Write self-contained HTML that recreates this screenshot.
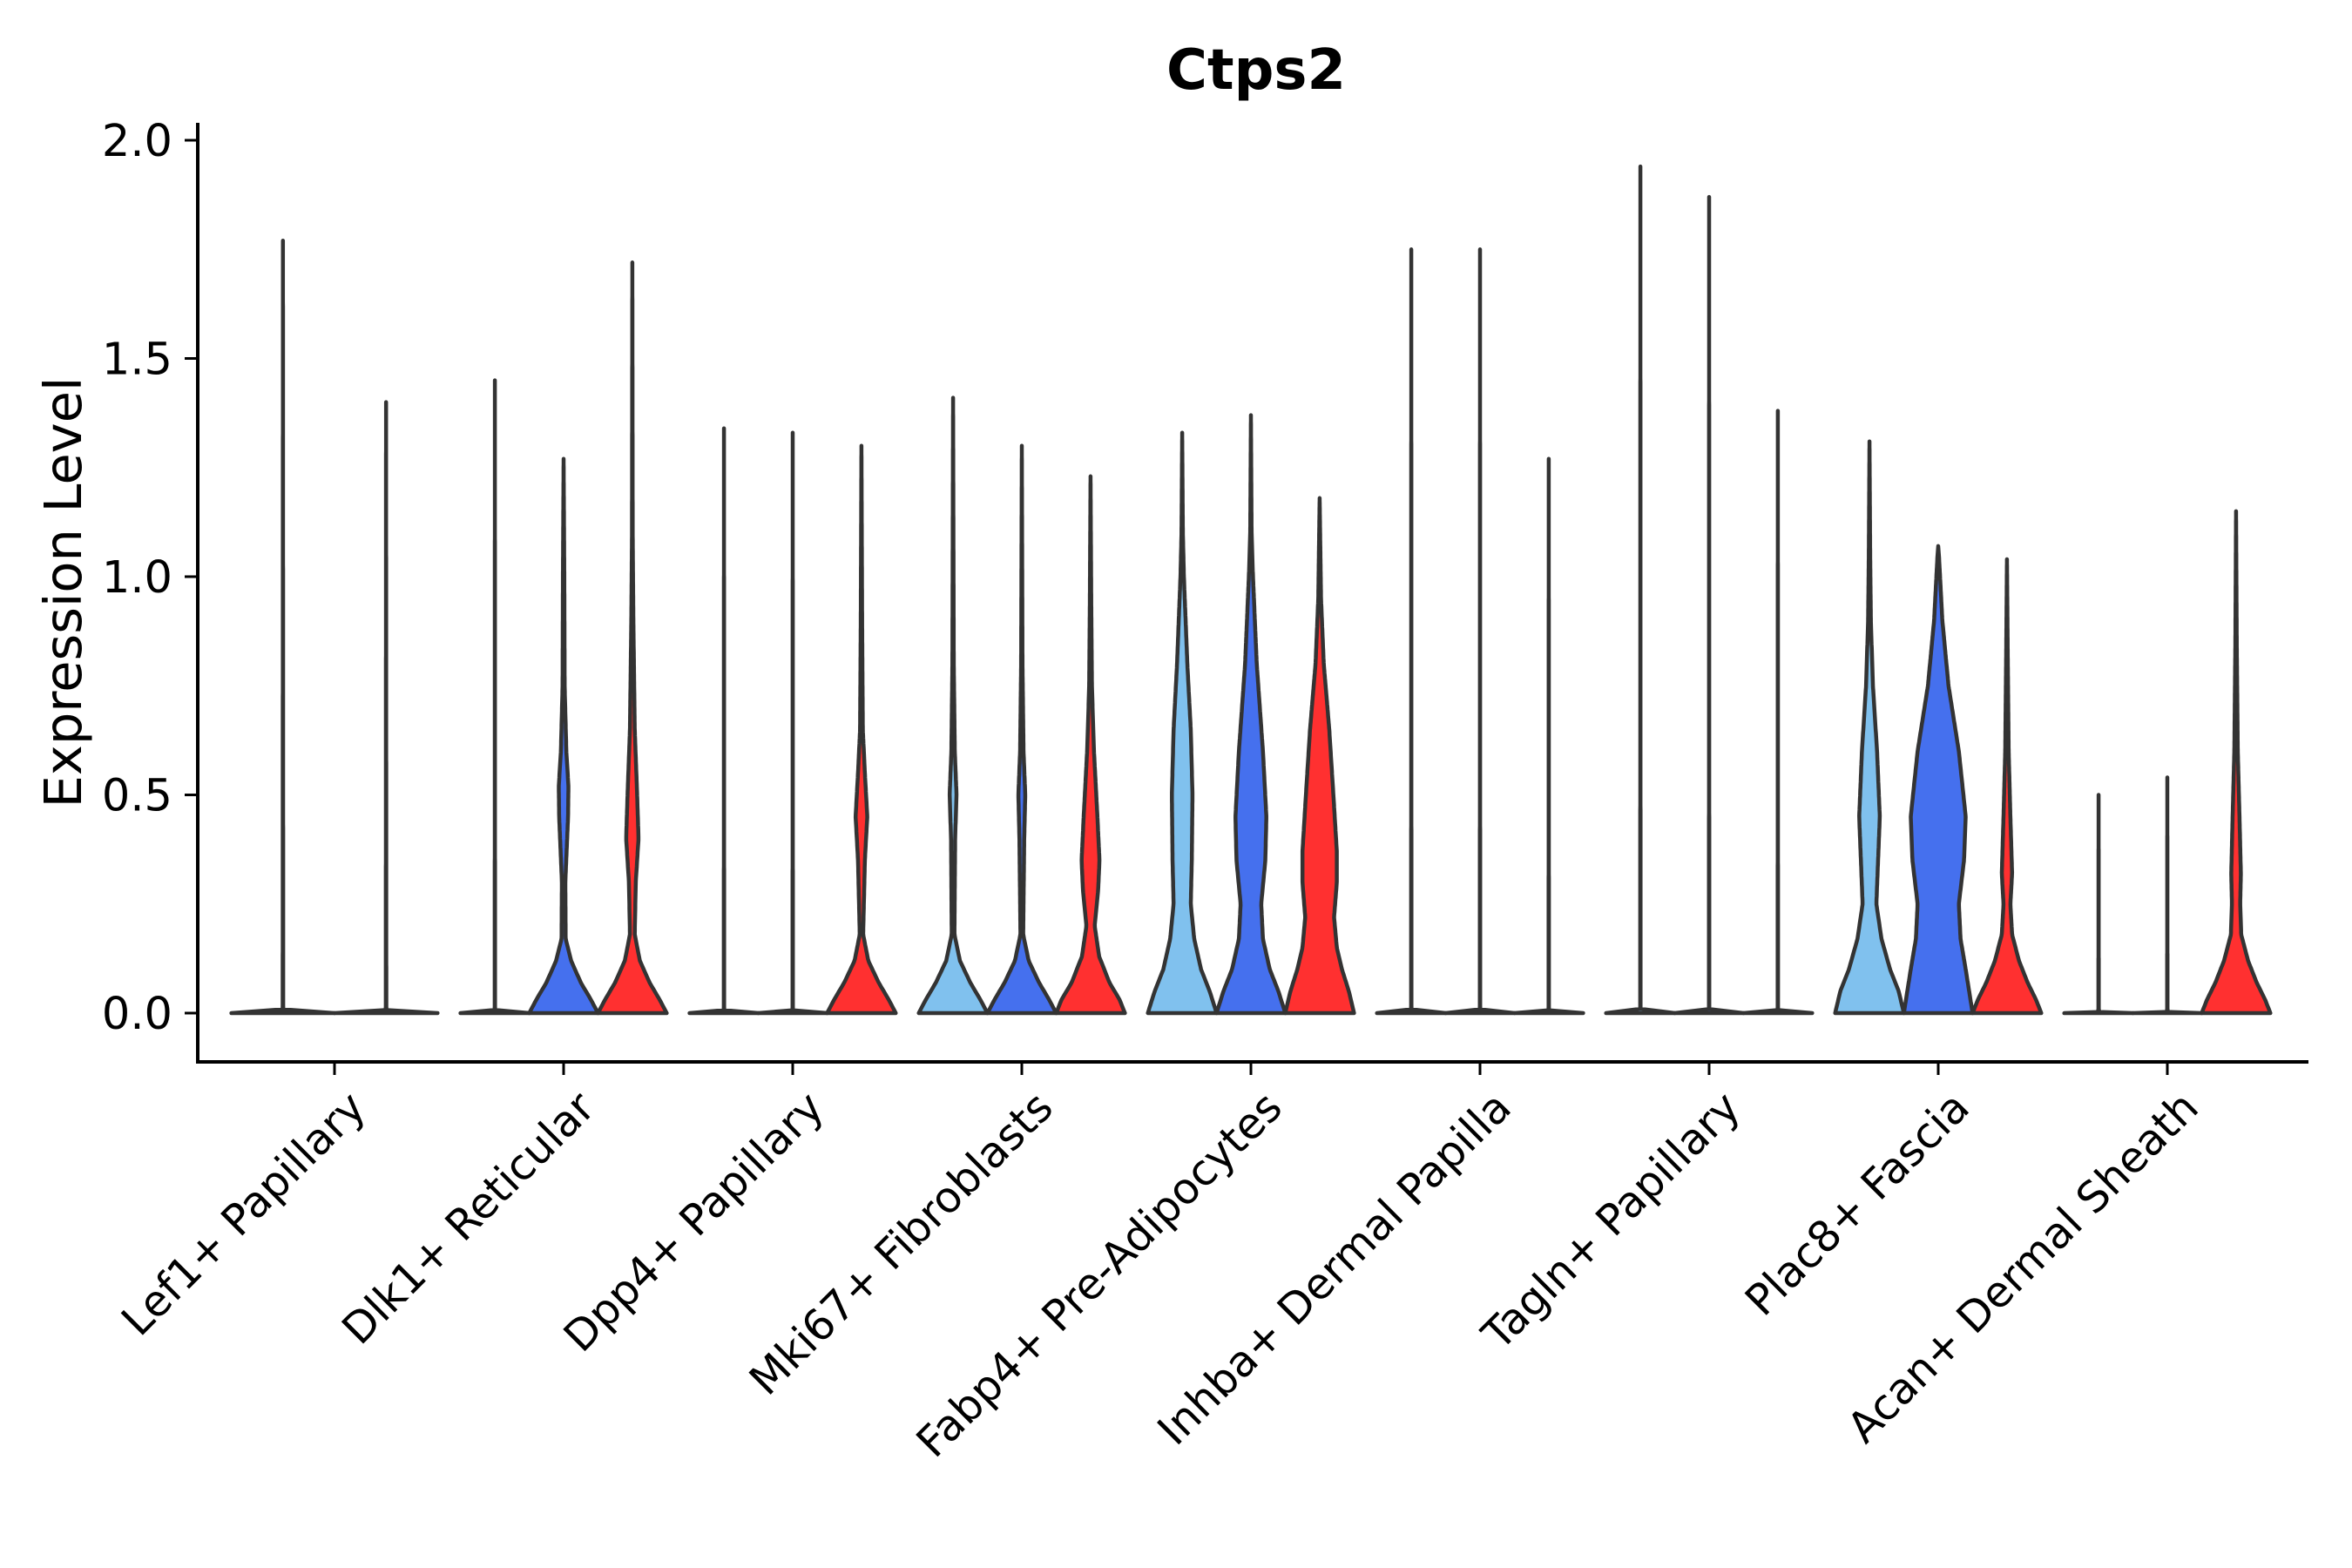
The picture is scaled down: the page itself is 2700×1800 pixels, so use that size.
<!DOCTYPE html>
<html><head><meta charset="utf-8"><style>
html,body{margin:0;padding:0;background:#fff}
svg{display:block}
text{font-family:"DejaVu Sans","Liberation Sans",sans-serif;fill:#000}
</style></head><body>
<svg id="chart" width="2700" height="1800" viewBox="0 0 2700 1800" xmlns="http://www.w3.org/2000/svg">
<text x="1442" y="102" font-size="64" font-weight="bold" text-anchor="middle">Ctps2</text>
<text transform="translate(93,680) rotate(-90)" font-size="59" text-anchor="middle">Expression Level</text>
<line x1="227" y1="141" x2="227" y2="1221" stroke="#000" stroke-width="4"/>
<line x1="225" y1="1219" x2="2650" y2="1219" stroke="#000" stroke-width="4"/>
<g id="yticks"></g>
<g id="xticks"></g>
<g id="violins"></g>
</svg>
<script>
const categories = ["Lef1+ Papillary","Dlk1+ Reticular","Dpp4+ Papillary","Mki67+ Fibroblasts","Fabp4+ Pre-Adipocytes","Inhba+ Dermal Papilla","Tagln+ Papillary","Plac8+ Fascia","Acan+ Dermal Sheath"];
const yTicks = [0, 0.5, 1.0, 1.5, 2.0];
const yTickLabels = ["0.0","0.5","1.0","1.5","2.0"];
const seriesColors = ["#80C1EE","#4570EE","#FF3030"];
const groupSeries = [[0,1],[0,1,2],[0,1,2],[0,1,2],[0,1,2],[0,1,2],[0,1,2],[0,1,2],[0,1,2]];
const maxVals = [[1.77,1.40],[1.45,1.27,1.72],[1.34,1.33,1.30],[1.41,1.30,1.23],[1.33,1.37,1.18],[1.75,1.75,1.27],[1.94,1.87,1.38],[1.31,1.07,1.04],[0.50,0.54,1.15]];
const zeroShape = [[0,1],[0.002,0.02],[0.01,0.005]];
const shapes = [
 [zeroShape, zeroShape],
 [zeroShape,
  [[0,1],[0.03,0.8],[0.07,0.5],[0.12,0.22],[0.17,0.06],[0.3,0.05],[0.45,0.13],[0.52,0.14],[0.6,0.08],[0.75,0.03],[1.0,0.02]],
  [[0,1],[0.03,0.8],[0.07,0.5],[0.12,0.22],[0.18,0.07],[0.3,0.1],[0.4,0.18],[0.5,0.14],[0.65,0.07],[0.9,0.03],[1.1,0.01]]],
 [zeroShape, zeroShape,
  [[0,1],[0.03,0.8],[0.07,0.5],[0.12,0.2],[0.18,0.05],[0.35,0.1],[0.45,0.17],[0.55,0.1],[0.65,0.04],[0.9,0.02]]],
 [[[0,1],[0.03,0.8],[0.07,0.5],[0.12,0.2],[0.18,0.04],[0.4,0.06],[0.5,0.1],[0.6,0.05],[0.8,0.02]],
  [[0,1],[0.03,0.8],[0.07,0.5],[0.12,0.2],[0.18,0.04],[0.4,0.07],[0.5,0.1],[0.6,0.05],[0.8,0.02]],
  [[0,1],[0.03,0.85],[0.07,0.55],[0.13,0.25],[0.2,0.12],[0.28,0.22],[0.35,0.26],[0.45,0.2],[0.6,0.1],[0.75,0.04],[0.95,0.02]]],
 [[[0,1],[0.05,0.8],[0.1,0.55],[0.17,0.35],[0.25,0.25],[0.35,0.28],[0.5,0.3],[0.65,0.25],[0.8,0.15],[1.0,0.05],[1.1,0.02]],
  [[0,1],[0.05,0.8],[0.1,0.55],[0.17,0.35],[0.25,0.3],[0.35,0.42],[0.45,0.45],[0.6,0.35],[0.8,0.17],[1.0,0.06],[1.1,0.02]],
  [[0,1],[0.05,0.85],[0.1,0.65],[0.15,0.5],[0.22,0.42],[0.3,0.5],[0.37,0.5],[0.5,0.4],[0.65,0.28],[0.8,0.12],[0.95,0.04]]],
 [zeroShape, zeroShape, zeroShape],
 [zeroShape, zeroShape, zeroShape],
 [[[0,1],[0.05,0.85],[0.1,0.6],[0.17,0.35],[0.25,0.2],[0.35,0.25],[0.45,0.3],[0.6,0.22],[0.75,0.1],[0.9,0.04],[1.05,0.02]],
  [[0,1],[0.05,0.9],[0.1,0.8],[0.17,0.65],[0.25,0.6],[0.35,0.75],[0.45,0.8],[0.6,0.6],[0.75,0.3],[0.9,0.12],[1.05,0.02]],
  [[0,1],[0.03,0.85],[0.07,0.6],[0.12,0.35],[0.18,0.15],[0.25,0.1],[0.32,0.15],[0.45,0.1],[0.6,0.05],[0.85,0.02]]],
 [zeroShape, zeroShape,
  [[0,1],[0.03,0.85],[0.07,0.6],[0.12,0.35],[0.18,0.15],[0.25,0.12],[0.32,0.14],[0.45,0.1],[0.6,0.05],[0.85,0.02]]]
];
const NS="http://www.w3.org/2000/svg";
const yScale=v=>1163-v*501;
const xCenter=i=>384+i*263;
const yt=document.getElementById('yticks');
yTicks.forEach((v,k)=>{
  const l=document.createElementNS(NS,'line');
  l.setAttribute('x1',212);l.setAttribute('x2',227);l.setAttribute('y1',yScale(v));l.setAttribute('y2',yScale(v));
  l.setAttribute('stroke','#000');l.setAttribute('stroke-width',3);
  
  
  yt.appendChild(l);
  const t=document.createElementNS(NS,'text');
  t.setAttribute('x',198);t.setAttribute('y',yScale(v)+18);t.setAttribute('font-size',51);t.setAttribute('text-anchor','end');
  t.textContent=yTickLabels[k];
  
  
  yt.appendChild(t);
});
const xt=document.getElementById('xticks');
categories.forEach((c,i)=>{
  const x=xCenter(i);
  const l=document.createElementNS(NS,'line');
  l.setAttribute('x1',x);l.setAttribute('x2',x);l.setAttribute('y1',1219);l.setAttribute('y2',1234);
  l.setAttribute('stroke','#000');l.setAttribute('stroke-width',3);
  
  
  xt.appendChild(l);
  const t=document.createElementNS(NS,'text');
  t.setAttribute('transform','translate('+(x+14)+',1250) rotate(-45)');
  t.setAttribute('font-size',49);t.setAttribute('text-anchor','end');t.setAttribute('dy','0.7em');
  t.textContent=c;
  
  
  xt.appendChild(t);
});
const vg=document.getElementById('violins');
function widthAt(knots,maxV,v){
  const pts=knots.concat([[maxV,0]]);
  for(let k=0;k<pts.length-1;k++){
    if(v>=pts[k][0]&&v<=pts[k+1][0]){const f=(v-pts[k][0])/((pts[k+1][0]-pts[k][0])||1);return pts[k][1]+f*(pts[k+1][1]-pts[k][1]);}
  }
  return 0;
}
groupSeries.forEach((ser,i)=>{
  const n=ser.length, slot=0.9*263/n;
  ser.forEach((s,j)=>{
    const cx=xCenter(i)-0.45*263+slot*(j+0.5);
    const hw=slot/2;
    const maxV=maxVals[i][j], knots=shapes[i][j].filter(p=>p[0]<maxV);
    const N=200, right=[], left=[];
    for(let k=0;k<=N;k++){
      const v=maxV*k/N, w=widthAt(knots,maxV,v)*hw;
      right.push((cx+w).toFixed(1)+','+yScale(v).toFixed(1));
      left.unshift((cx-w).toFixed(1)+','+yScale(v).toFixed(1));
    }
    const p=document.createElementNS(NS,'polygon');
    p.setAttribute('points',right.concat(left).join(' '));
    p.setAttribute('fill',seriesColors[s]);p.setAttribute('stroke','#333');p.setAttribute('stroke-width',4.5);p.setAttribute('stroke-linejoin','round');
    
    
    vg.appendChild(p);
  });
});
</script>
</body></html>
